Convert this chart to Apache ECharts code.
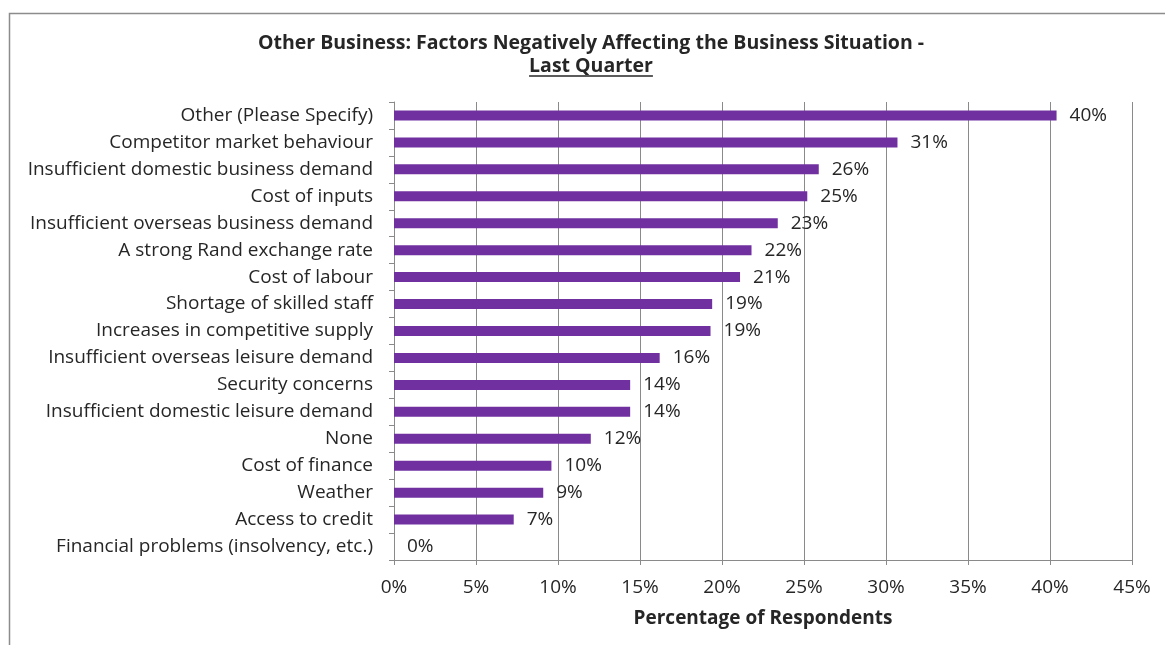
<!DOCTYPE html>
<html>
<head>
<meta charset="utf-8">
<script src="https://cdn.jsdelivr.net/npm/echarts@6/dist/echarts.min.js"></script>
<style>
  html, body { margin: 0; padding: 0; background: #fff; }
  #chart { width: 1165px; height: 645px; }
</style>
</head>
<body>
<div id="chart"></div>
<script>
// Survey factors, top to bottom as listed
const categories = [
  'Other (Please Specify)',
  'Competitor market behaviour',
  'Insufficient domestic business demand',
  'Cost of inputs',
  'Insufficient overseas business demand',
  'A strong Rand exchange rate',
  'Cost of labour',
  'Shortage of skilled staff',
  'Increases in competitive supply',
  'Insufficient overseas leisure demand',
  'Security concerns',
  'Insufficient domestic leisure demand',
  'None',
  'Cost of finance',
  'Weather',
  'Access to credit',
  'Financial problems (insolvency, etc.)'
];

// Share of respondents (%)
const respondents = [40.4, 30.7, 25.9, 25.2, 23.4, 21.8, 21.1, 19.4, 19.3, 16.2, 14.4, 14.4, 12.0, 9.6, 9.1, 7.3, 0];

const titleLine1 = 'Other Business: Factors Negatively Affecting the Business Situation -';
const titleLine2 = 'Last Quarter';
const xAxisName = 'Percentage of Respondents';

const FONT = '"Open Sans", "Liberation Sans", sans-serif';
const TEXT = '#262626';
const GRID_GRAY = '#8a8a8a';
const FS = 19;
const TITLE_FS = 19.5;
const TITLE_X = 591;

const chart = echarts.init(document.getElementById('chart'), null, { renderer: 'canvas' });

// width of the underlined second title line
const ctx = document.createElement('canvas').getContext('2d');
ctx.font = '700 ' + TITLE_FS + 'px "Open Sans"';
const subW = ctx.measureText(titleLine2).width;

const titleStyle = { fontFamily: FONT, fontSize: TITLE_FS, fontWeight: 'bold', fill: TEXT,
                     textAlign: 'center', textVerticalAlign: 'middle' };

chart.setOption({
  backgroundColor: '#fff',
  animation: false,
  graphic: [
    { type: 'rect', left: 7, top: 11, silent: true,
      shape: { width: 1200, height: 700 },
      style: { fill: 'none', stroke: '#8c8c8c', lineWidth: 1.5 } },
    { type: 'text', silent: true, x: TITLE_X, y: 43,
      style: Object.assign({ text: titleLine1 }, titleStyle) },
    { type: 'text', silent: true, x: TITLE_X, y: 66,
      style: Object.assign({ text: titleLine2 }, titleStyle) },
    { type: 'line', silent: true,
      shape: { x1: TITLE_X - subW / 2, y1: 76, x2: TITLE_X + subW / 2, y2: 76 },
      style: { stroke: TEXT, lineWidth: 1.4 } }
  ],
  grid: { left: 394, right: 33, top: 102, bottom: 85, containLabel: false },
  xAxis: {
    type: 'value', min: 0, max: 45, interval: 5,
    name: xAxisName, nameLocation: 'middle', nameGap: 49,
    nameTextStyle: { fontFamily: FONT, fontSize: FS, fontWeight: 'bold', color: TEXT },
    axisLine: { show: true, lineStyle: { color: GRID_GRAY, width: 1 } },
    axisTick: { show: true, length: 5, lineStyle: { color: GRID_GRAY } },
    axisLabel: { formatter: '{value}%', margin: 18, fontFamily: FONT, fontSize: FS, color: TEXT },
    splitLine: { show: true, lineStyle: { color: GRID_GRAY, width: 1 } }
  },
  yAxis: {
    type: 'category', data: categories, inverse: true,
    axisLine: { show: true, lineStyle: { color: GRID_GRAY, width: 1 } },
    axisTick: { show: true, length: 5, alignWithLabel: false, lineStyle: { color: GRID_GRAY } },
    axisLabel: { margin: 21, fontFamily: FONT, fontSize: FS, color: TEXT }
  },
  series: [{
    type: 'bar', data: respondents, barWidth: 10,
    itemStyle: { color: '#7030A0' },
    label: {
      show: true, position: 'right', distance: 13,
      fontFamily: FONT, fontSize: FS, color: TEXT,
      formatter: p => Math.round(p.value) + '%'
    }
  }]
});
</script>
</body>
</html>
